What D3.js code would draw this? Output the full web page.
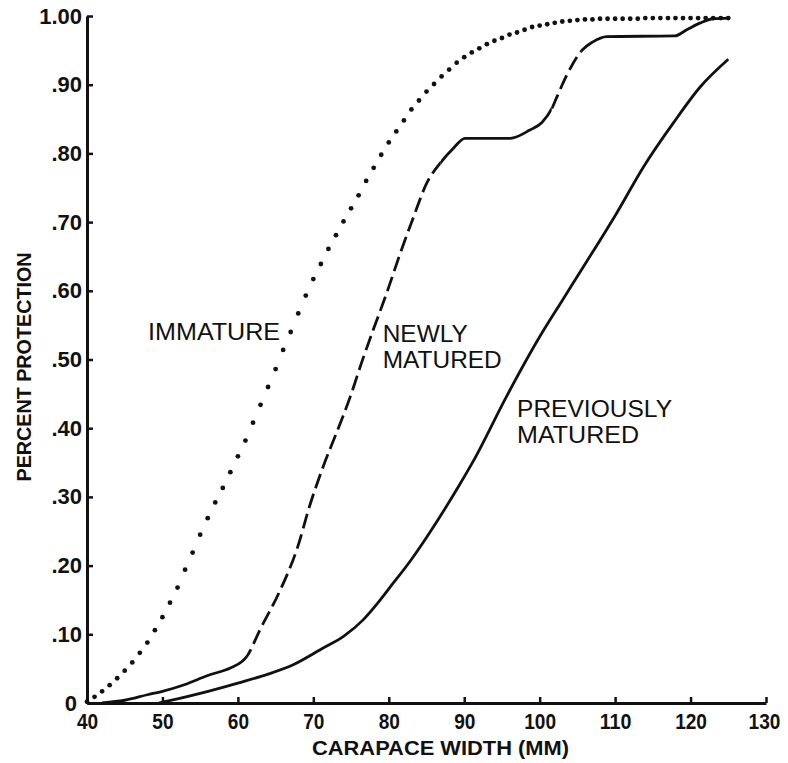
<!DOCTYPE html>
<html>
<head>
<meta charset="utf-8">
<script src="https://cdn.jsdelivr.net/npm/d3@7/dist/d3.min.js"></script>
<style>
  html, body { margin: 0; padding: 0; background: #fff; }
  svg { display: block; }
</style>
</head>
<body>
<svg id="chart" width="788" height="763"></svg>
<script>
// ---------- data ----------
const xTicks = [40, 50, 60, 70, 80, 90, 100, 110, 120, 130];
const xTickLabels = ["40", "50", "60", "70", "80", "90", "100", "110", "120", "130"];
const yTicks = [0, 0.1, 0.2, 0.3, 0.4, 0.5, 0.6, 0.7, 0.8, 0.9, 1.0];
const yTickLabels = ["0", ".10", ".20", ".30", ".40", ".50", ".60", ".70", ".80", ".90", "1.00"];

// Immature: one dot per mm of carapace width
const immatureX = [40,41,42,43,44,45,46,47,48,49,50,51,52,53,54,55,56,57,58,59,60,61,62,63,64,65,66,67,68,69,70,71,72,73,74,75,76,77,78,79,80,81,82,83,84,85,86,87,88,89,90,91,92,93,94,95,96,97,98,99,100,101,102,103,104,105,106,107,108,109,110,111,112,113,114,115,116,117,118,119,120,121,122,123,124,125];
const immatureY = [0.002,0.009,0.017,0.026,0.036,0.047,0.059,0.073,0.088,0.106,0.125,0.146,0.168,0.194,0.219,0.245,0.269,0.292,0.313,0.336,0.359,0.382,0.408,0.434,0.460,0.486,0.514,0.540,0.567,0.593,0.617,0.639,0.661,0.681,0.701,0.720,0.739,0.760,0.779,0.798,0.816,0.832,0.848,0.864,0.877,0.890,0.901,0.912,0.922,0.932,0.940,0.947,0.953,0.959,0.964,0.968,0.973,0.976,0.980,0.984,0.986,0.988,0.990,0.992,0.993,0.994,0.995,0.995,0.996,0.996,0.996,0.996,0.996,0.996,0.997,0.997,0.997,0.997,0.997,0.997,0.997,0.997,0.997,0.997,0.997,0.997];

// Newly matured: solid where observed, dashed over the interpolated stretches
const newlyX = [42,45,48,50,53,56,59,60.5,61.2,62.9,65.6,67.8,69.6,71.3,73.1,74.9,76.6,78.0,79.7,81.5,83.3,85.0,86.9,88.6,90.1,96.1,98.7,100.3,101.6,102.2,103.6,105.6,107,108.9,117.9,119.5,121.3,123,125];
const newlyY = [0,0.004,0.012,0.017,0.027,0.040,0.051,0.060,0.068,0.106,0.164,0.223,0.290,0.344,0.394,0.446,0.502,0.545,0.596,0.654,0.708,0.756,0.787,0.808,0.822,0.822,0.834,0.845,0.865,0.880,0.914,0.950,0.962,0.970,0.971,0.980,0.990,0.996,0.997];
const newlyDashedRanges = [[61.2, 86.9], [101.6, 105.6]];
const newlySolidRanges = [[40, 61.2], [86.9, 101.6], [105.6, 130]];

// Previously matured
const previousX = [49.5,52,55,60,64,67.4,71.3,74,76.6,78.5,80.2,82.8,85,89.4,91.2,95.6,100,103,105.8,110.2,113.8,117.7,121.3,125];
const previousY = [0,0.006,0.014,0.029,0.042,0.056,0.080,0.097,0.121,0.145,0.169,0.206,0.241,0.318,0.352,0.446,0.533,0.586,0.635,0.713,0.781,0.844,0.897,0.937];

// Curve labels: one entry per text line (x in mm, baseline in proportion)
const labelLines = ["IMMATURE", "NEWLY", "MATURED", "PREVIOUSLY", "MATURED"];
const labelX = [48.1, 79.2, 79.2, 97.0, 97.0];
const labelY = [0.528, 0.525, 0.4875, 0.416, 0.378];
const labelWidth = [132, 85, 119, 155, 122];

// ---------- layout ----------
const svg = d3.select("#chart");
const x = d3.scaleLinear().domain([40, 130]).range([87, 766]);
const y = d3.scaleLinear().domain([0, 1]).range([703, 16]);
const ink = "#111";
const font = "'Liberation Sans', Arial, sans-serif";

// ---------- axes ----------
const xAxis = d3.axisBottom(x)
  .tickValues(xTicks)
  .tickFormat((d, i) => xTickLabels[i])
  .tickSizeInner(-6).tickSizeOuter(0).tickPadding(10);
const gx = svg.append("g").attr("transform", `translate(0,${y(0)})`).call(xAxis);
gx.select(".domain").attr("stroke", ink).attr("stroke-width", 3);
gx.selectAll(".tick line").attr("stroke", ink).attr("stroke-width", 2.5);
gx.selectAll(".tick text")
  .attr("fill", ink).style("font-family", font)
  .style("font-size", "22px").style("font-weight", "bold")
  .attr("lengthAdjust", "spacingAndGlyphs")
  .attr("textLength", (d, i) => 10.6 * xTickLabels[i].length);
// keep the last label clear of the right edge
gx.selectAll(".tick text").filter(d => d === 130).attr("x", -2);

const yAxis = d3.axisLeft(y)
  .tickValues(yTicks)
  .tickFormat((d, i) => yTickLabels[i])
  .tickSizeInner(-6).tickSizeOuter(0).tickPadding(5);
const gy = svg.append("g").attr("transform", `translate(${x(40)},0)`).call(yAxis);
gy.select(".domain").attr("stroke", ink).attr("stroke-width", 3);
gy.selectAll(".tick line").attr("stroke", ink).attr("stroke-width", 2.5);
gy.selectAll(".tick text")
  .attr("fill", ink).style("font-family", font)
  .style("font-size", "22px").style("font-weight", "bold");
// the "0" label sits a little left so it clears the "40" below it
gy.selectAll(".tick text").filter(d => d === 0).attr("x", -10);

// axis titles
svg.append("text")
  .attr("x", 440.5).attr("y", 755)
  .attr("text-anchor", "middle")
  .attr("textLength", 257).attr("lengthAdjust", "spacingAndGlyphs")
  .style("font-family", font).style("font-size", "21px").style("font-weight", "bold")
  .attr("fill", ink)
  .text("CARAPACE WIDTH (MM)");

svg.append("text")
  .attr("transform", "translate(31,367) rotate(-90)")
  .attr("text-anchor", "middle")
  .attr("textLength", 229).attr("lengthAdjust", "spacingAndGlyphs")
  .style("font-family", font).style("font-size", "21px").style("font-weight", "bold")
  .attr("fill", ink)
  .text("PERCENT PROTECTION");

// ---------- series ----------
const line = d3.line().x(d => x(d[0])).y(d => y(d[1])).curve(d3.curveMonotoneX);

// immature: dotted (one dot per mm)
svg.append("g").selectAll("circle")
  .data(d3.zip(immatureX, immatureY))
  .join("circle")
  .attr("cx", d => x(d[0])).attr("cy", d => y(d[1]))
  .attr("r", 2.4).attr("fill", ink);

// newly matured: one smooth path, clipped into solid and dashed stretches
const newlyPts = d3.zip(newlyX, newlyY);
const defs = svg.append("defs");
function addClip(id, ranges) {
  const cp = defs.append("clipPath").attr("id", id);
  ranges.forEach(r => {
    cp.append("rect")
      .attr("x", x(r[0])).attr("width", x(r[1]) - x(r[0]))
      .attr("y", y(1.05)).attr("height", y(-0.05) - y(1.05));
  });
}
addClip("clip-solid", newlySolidRanges);
addClip("clip-dash", newlyDashedRanges);

svg.append("path")
  .datum(newlyPts)
  .attr("d", line)
  .attr("fill", "none").attr("stroke", ink).attr("stroke-width", 2.8)
  .attr("clip-path", "url(#clip-solid)");
svg.append("path")
  .datum(newlyPts)
  .attr("d", line)
  .attr("fill", "none").attr("stroke", ink).attr("stroke-width", 2.8)
  .attr("stroke-dasharray", "15,6")
  .attr("clip-path", "url(#clip-dash)");

// previously matured: solid
svg.append("path")
  .datum(d3.zip(previousX, previousY))
  .attr("d", line)
  .attr("fill", "none").attr("stroke", ink).attr("stroke-width", 2.8);

// ---------- curve labels ----------
svg.append("g").selectAll("text")
  .data(labelLines)
  .join("text")
  .attr("x", (d, i) => x(labelX[i]))
  .attr("y", (d, i) => y(labelY[i]))
  .attr("textLength", (d, i) => labelWidth[i])
  .attr("lengthAdjust", "spacingAndGlyphs")
  .attr("fill", ink)
  .style("font-family", font).style("font-size", "23.5px")
  .text(d => d);
</script>
</body>
</html>
